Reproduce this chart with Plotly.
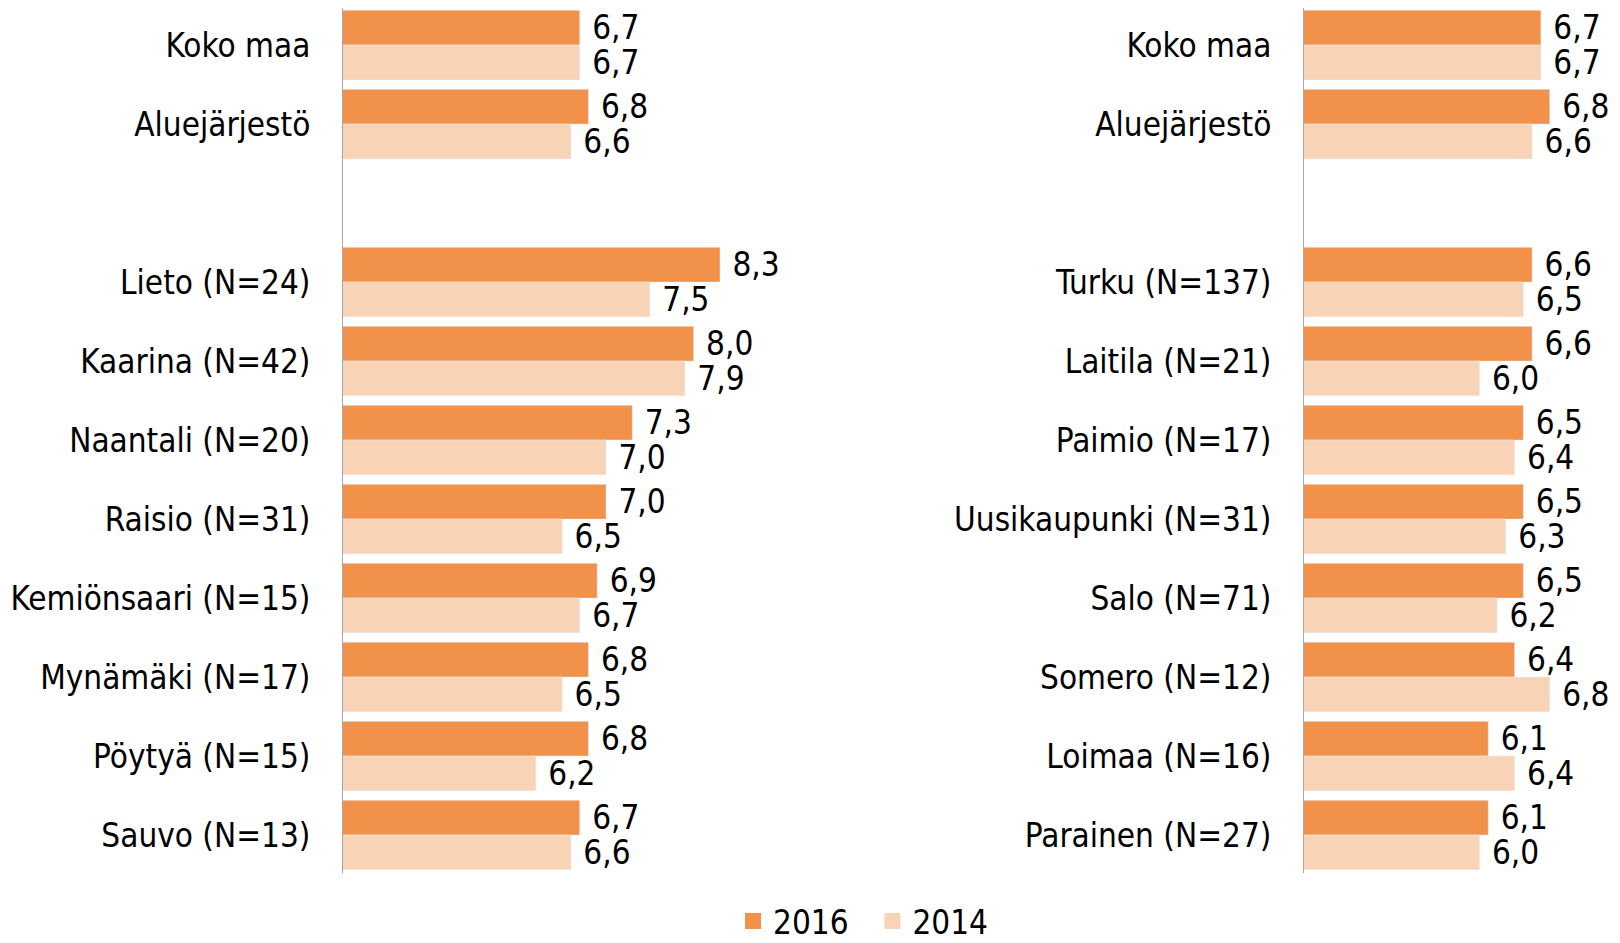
import plotly.graph_objects as go

left_cats = ["Koko maa", "Aluejärjestö", " ", "Lieto (N=24)", "Kaarina (N=42)", "Naantali (N=20)",
             "Raisio (N=31)", "Kemiönsaari (N=15)", "Mynämäki (N=17)", "Pöytyä (N=15)", "Sauvo (N=13)"]
left_2016 = [6.7, 6.8, None, 8.3, 8.0, 7.3, 7.0, 6.9, 6.8, 6.8, 6.7]
left_2014 = [6.7, 6.6, None, 7.5, 7.9, 7.0, 6.5, 6.7, 6.5, 6.2, 6.6]

right_cats = ["Koko maa", "Aluejärjestö", " ", "Turku (N=137)", "Laitila (N=21)", "Paimio (N=17)",
              "Uusikaupunki (N=31)", "Salo (N=71)", "Somero (N=12)", "Loimaa (N=16)", "Parainen (N=27)"]
right_2016 = [6.7, 6.8, None, 6.6, 6.6, 6.5, 6.5, 6.5, 6.4, 6.1, 6.1]
right_2014 = [6.7, 6.6, None, 6.5, 6.0, 6.4, 6.3, 6.2, 6.8, 6.4, 6.0]

C2016 = "#F1914A"
C2014 = "#F8D3B6"
FONT = "DejaVu Sans Condensed"
FS = 33

# the page body has an 8px margin, so the figure is sized to fit inside it
W, H = 1604, 927


def fmt(vals):
    return ["" if v is None else " " + f"{v:.1f}".replace(".", ",") for v in vals]


fig = go.Figure()
for cats, v16, v14, xa, ya in [(left_cats, left_2016, left_2014, "x", "y"),
                               (right_cats, right_2016, right_2014, "x2", "y2")]:
    fig.add_trace(go.Bar(y=cats, x=v16, name="2016", orientation="h", marker_color=C2016,
                         text=fmt(v16), textposition="outside", cliponaxis=False,
                         constraintext="none", textfont=dict(size=FS, color="black"),
                         xaxis=xa, yaxis=ya, showlegend=False))
    fig.add_trace(go.Bar(y=cats, x=v14, name="2014", orientation="h", marker_color=C2014,
                         text=fmt(v14), textposition="outside", cliponaxis=False,
                         constraintext="none", textfont=dict(size=FS, color="black"),
                         xaxis=xa, yaxis=ya, showlegend=False))

# legend entries with larger square swatches
for name, col in [("2016\u00a0\u00a0", C2016), ("2014", C2014)]:
    fig.add_trace(go.Scatter(x=[None], y=[None], mode="markers", name=name,
                             marker=dict(symbol="square", size=19, color=col),
                             xaxis="x", yaxis="y"))

axis_x = dict(showgrid=False, zeroline=False, showticklabels=False, ticks="", showline=False)
axis_y = dict(showgrid=False, zeroline=False, ticks="", showline=True, linecolor="#A6A6A6",
              linewidth=1, range=[10.48, -0.47], ticklabelstandoff=25,
              tickfont=dict(size=FS, color="black"))

fig.update_layout(
    width=W, height=H,
    margin=dict(l=0, r=0, t=0, b=62, autoexpand=False),
    paper_bgcolor="white", plot_bgcolor="white",
    font=dict(family=FONT, size=FS, color="black"),
    barmode="group", bargap=0.12, bargroupgap=0,
    xaxis=dict(axis_x, domain=[335 / W, 861 / W], range=[4, 10]),
    xaxis2=dict(axis_x, domain=[1296 / W, 1.0], range=[4, 7.51]),
    yaxis=dict(axis_y, anchor="x"),
    yaxis2=dict(axis_y, anchor="x2"),
    legend=dict(orientation="h", x=0.452, xanchor="left", y=-0.0555, yanchor="middle",
                font=dict(size=FS), itemwidth=30, traceorder="normal"),
    showlegend=True,
)

fig.write_html("out.html")
